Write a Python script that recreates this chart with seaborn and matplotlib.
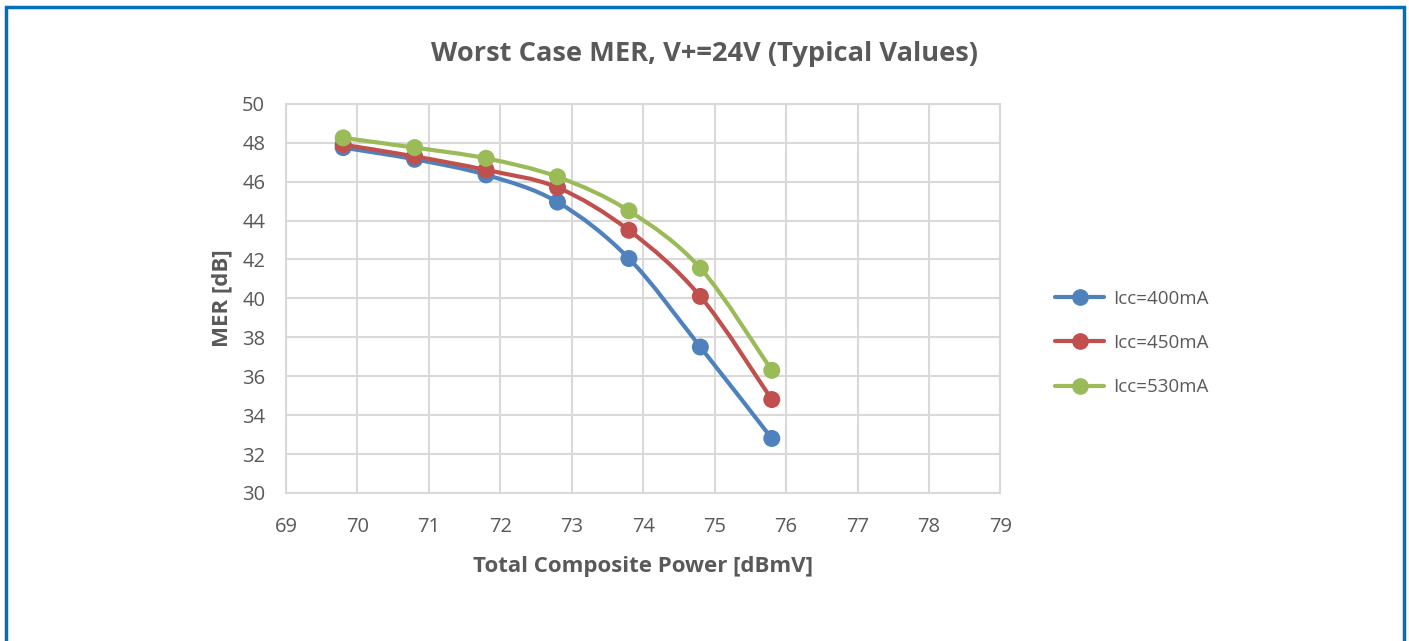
import numpy as np
import pandas as pd
import seaborn as sns
import matplotlib.pyplot as plt
from matplotlib.path import Path
from matplotlib.patches import PathPatch, Rectangle
from matplotlib.lines import Line2D

# data
power = [69.8, 70.8, 71.8, 72.8, 73.8, 74.8, 75.8]
mer_400 = [47.75, 47.15, 46.35, 44.95, 42.05, 37.5, 32.8]
mer_450 = [47.9, 47.3, 46.6, 45.7, 43.5, 40.1, 34.8]
mer_530 = [48.25, 47.75, 47.2, 46.25, 44.5, 41.55, 36.3]
series = ["Icc=400mA", "Icc=450mA", "Icc=530mA"]
colors = ["#4F81BD", "#C0504D", "#9BBB59"]

df = pd.DataFrame({
    "power": power * 3,
    "mer": mer_400 + mer_450 + mer_530,
    "series": np.repeat(series, len(power)),
})

sns.set_theme(style="white")
plt.rcParams["font.family"] = ["Open Sans", "DejaVu Sans"]
text_col = "#595959"
grid_col = "#D9D9D9"

fig = plt.figure(figsize=(14.09, 6.41), dpi=100)
ax = fig.add_axes([0.203, 0.231, 0.507, 0.607])


def smooth_path(xs, ys):
    # Excel style smoothed line: cubic bezier through the points
    pts = np.column_stack([xs, ys])
    verts = [pts[0]]
    codes = [Path.MOVETO]
    n = len(pts)
    for i in range(n - 1):
        p0 = pts[i - 1] if i > 0 else pts[i]
        p1 = pts[i]
        p2 = pts[i + 1]
        p3 = pts[i + 2] if i + 2 < n else pts[i + 1]
        c1 = p1 + (p2 - p0) / 6
        c2 = p2 - (p3 - p1) / 6
        verts += [c1, c2, p2]
        codes += [Path.CURVE4] * 3
    return Path(verts, codes)


for name, col in zip(series, colors):
    sub = df[df["series"] == name]
    ax.add_patch(PathPatch(smooth_path(sub["power"].values, sub["mer"].values),
                           facecolor="none", edgecolor=col, lw=3, zorder=3,
                           capstyle="round"))

sns.scatterplot(data=df, x="power", y="mer", hue="series", palette=colors,
                s=150, edgecolor="none", ax=ax, zorder=4, legend=False)

ax.set_xlim(69, 79)
ax.set_ylim(30, 50)
ax.set_xticks(range(69, 80))
ax.set_yticks(range(30, 51, 2))
ax.grid(True, color=grid_col, lw=1.5)
ax.set_axisbelow(True)
for sp in ax.spines.values():
    sp.set_color(grid_col)
    sp.set_linewidth(1.5)
ax.tick_params(axis="both", length=0, labelsize=14.5, labelcolor=text_col)
ax.tick_params(axis="x", pad=17)
ax.tick_params(axis="y", pad=15)

ax.set_xlabel("Total Composite Power [dBmV]", fontsize=16, fontweight="bold",
              color=text_col, labelpad=14)
ax.set_ylabel("MER [dB]", fontsize=16, fontweight="bold", color=text_col,
              labelpad=7)

fig.text(0.5, 0.915, "Worst Case MER, V+=24V (Typical Values)", ha="center",
         va="center", fontsize=19.6, fontweight="bold", color=text_col)

handles = [Line2D([], [], color=c, lw=3, marker="o", markersize=11) for c in colors]
fig.legend(handles, series, loc="center left", bbox_to_anchor=(0.737, 0.465),
           frameon=False, fontsize=13.5, labelcolor=text_col, handlelength=2.6,
           labelspacing=1.4, handletextpad=0.5)

fig.patches.append(Rectangle((0.0043, -0.1), 0.9922, 1.0889, fill=False,
                             edgecolor="#0070B8", lw=2.5,
                             transform=fig.transFigure, figure=fig))

fig.savefig("out.png", dpi=100, facecolor="white")
